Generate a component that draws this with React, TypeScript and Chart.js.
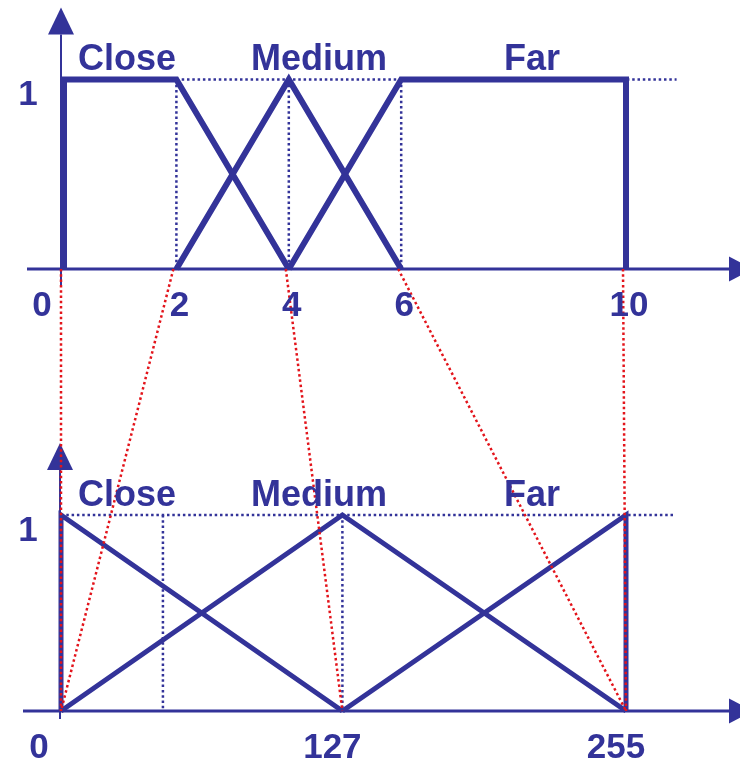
import React, { useEffect, useRef } from "react";
import { Chart, registerables } from "chart.js";

Chart.register(...registerables);

// ---- data ----
const setNames = ["Close", "Medium", "Far"];

const topCloseX = [0, 0, 2, 4];
const topCloseY = [0, 1, 1, 0];
const topMediumX = [2, 4, 6];
const topMediumY = [0, 1, 0];
const topFarX = [4, 6, 10, 10];
const topFarY = [0, 1, 1, 0];

const botCloseX = [0, 0, 127];
const botCloseY = [0, 1, 0];
const botMediumX = [0, 127, 255];
const botMediumY = [0, 1, 0];
const botFarX = [127, 255, 255];
const botFarY = [0, 1, 0];

const topTicks = [0, 2, 4, 6, 10];
const bottomTicks = [0, 127, 255];
const membershipTicks = [1];

const topGuides = [2, 4, 6];
const bottomGuides = [46, 127];
const topLevelGuide = [2, 10.9];
const bottomLevelGuide = [0, 277];

const mapFrom = [0, 2, 4, 6, 10];
const mapTo = [0, 0, 127, 255, 255];

// ---- style ----
const BLUE = "#333399";
const RED = "#e3141b";
const W = 740;
const H = 763;
const LABEL_FONT = 'bold 36px "Liberation Sans", Arial, sans-serif';
const NUM_FONT = 'bold 35px "Liberation Sans", Arial, sans-serif';
const nameCenters = [127, 319, 532];

function xBounds(v0: number, p0: number, v1: number, p1: number) {
  const range = (W * (v1 - v0)) / (p1 - p0);
  const min = v0 - (p0 * range) / W;
  return { min, max: min + range };
}
function yBounds(v0: number, p0: number, v1: number, p1: number) {
  const range = (H * (v1 - v0)) / (p0 - p1);
  const max = v0 + (p0 * range) / H;
  return { min: max - range, max };
}

const zip = (xs: number[], ys: number[]) => xs.map((x, i) => ({ x, y: ys[i] }));

const diagramPlugin = {
  id: "diagram",
  beforeDatasetsDraw(chart: any) {
    const ctx: CanvasRenderingContext2D = chart.ctx;
    const { xTop, yTop, xBot, yBot } = chart.scales;
    ctx.save();
    // dotted guides
    ctx.strokeStyle = BLUE;
    ctx.lineWidth = 2.5;
    ctx.setLineDash([2.5, 2.8]);
    const seg = (x1: number, y1: number, x2: number, y2: number) => {
      ctx.beginPath();
      ctx.moveTo(x1, y1);
      ctx.lineTo(x2, y2);
      ctx.stroke();
    };
    seg(xTop.getPixelForValue(topLevelGuide[0]), yTop.getPixelForValue(1), xTop.getPixelForValue(topLevelGuide[1]), yTop.getPixelForValue(1));
    topGuides.forEach((g) => seg(xTop.getPixelForValue(g), yTop.getPixelForValue(1), xTop.getPixelForValue(g), yTop.getPixelForValue(0)));
    seg(xBot.getPixelForValue(bottomLevelGuide[0]), yBot.getPixelForValue(1), xBot.getPixelForValue(bottomLevelGuide[1]), yBot.getPixelForValue(1));
    bottomGuides.forEach((g) => seg(xBot.getPixelForValue(g), yBot.getPixelForValue(1), xBot.getPixelForValue(g), yBot.getPixelForValue(0)));
    ctx.setLineDash([]);

    // axes
    ctx.fillStyle = BLUE;
    const drawAxes = (xs: any, ys: any, yAxisShift: number, leftExt: number, stub: number) => {
      const y0 = ys.getPixelForValue(0);
      const x0 = xs.getPixelForValue(0) + yAxisShift;
      const yBase = ys.getPixelForValue(1) - 45;
      ctx.lineWidth = 3;
      seg(x0 - leftExt, y0, 729, y0);
      ctx.beginPath();
      ctx.moveTo(729, y0 - 12.5);
      ctx.lineTo(729, y0 + 12.5);
      ctx.lineTo(753, y0);
      ctx.closePath();
      ctx.fill();
      ctx.lineWidth = 2;
      seg(x0, y0 + stub, x0, yBase);
      ctx.beginPath();
      ctx.moveTo(x0 - 13, yBase);
      ctx.lineTo(x0 + 13, yBase);
      ctx.lineTo(x0, yBase - 27);
      ctx.closePath();
      ctx.fill();
    };
    drawAxes(xTop, yTop, -3, 34, 16);
    drawAxes(xBot, yBot, -1, 37, 8);
    ctx.restore();
  },
  afterDatasetsDraw(chart: any) {
    const ctx: CanvasRenderingContext2D = chart.ctx;
    const { xTop, yTop, xBot, yBot } = chart.scales;
    ctx.save();
    // red mapping lines
    ctx.strokeStyle = RED;
    ctx.lineWidth = 2.5;
    ctx.setLineDash([2.5, 2.8]);
    mapFrom.forEach((v, i) => {
      ctx.beginPath();
      ctx.moveTo(xTop.getPixelForValue(v) - 3, yTop.getPixelForValue(0));
      ctx.lineTo(xBot.getPixelForValue(mapTo[i]), yBot.getPixelForValue(0));
      ctx.stroke();
    });
    ctx.setLineDash([]);

    // texts
    ctx.fillStyle = BLUE;
    ctx.textBaseline = "middle";
    ctx.textAlign = "center";
    const panels = [
      { xs: xTop, ys: yTop, ticks: topTicks, shift: 3 },
      { xs: xBot, ys: yBot, ticks: bottomTicks, shift: -10 },
    ];
    panels.forEach(({ xs, ys, ticks, shift }) => {
      ctx.font = LABEL_FONT;
      setNames.forEach((n, i) => ctx.fillText(n, nameCenters[i], ys.getPixelForValue(1) - 19));
      ctx.font = NUM_FONT;
      membershipTicks.forEach((m) => ctx.fillText(String(m), 28, ys.getPixelForValue(m) + 16));
      const x0 = xs.getPixelForValue(0);
      ticks.forEach((t) => {
        let px = xs.getPixelForValue(t);
        if (t === 0) px = x0 - 22;
        else px += shift;
        ctx.fillText(String(t), px, ys.getPixelForValue(0) + 37);
      });
    });
    ctx.restore();
  },
};

export default function App() {
  const ref = useRef<HTMLCanvasElement | null>(null);
  useEffect(() => {
    document.body.style.margin = "0";
    if (!ref.current) return;
    const line = (data: any[], xAxisID: string, yAxisID: string, width: number) => ({
      data,
      xAxisID,
      yAxisID,
      borderColor: BLUE,
      borderWidth: width,
      borderJoinStyle: "miter" as const,
      borderCapStyle: "butt" as const,
      pointRadius: 0,
      tension: 0,
      fill: false,
    });
    const chart = new Chart(ref.current, {
      type: "line",
      data: {
        datasets: [
          line(zip(topCloseX, topCloseY), "xTop", "yTop", 6),
          line(zip(topMediumX, topMediumY), "xTop", "yTop", 6),
          line(zip(topFarX, topFarY), "xTop", "yTop", 6),
          line(zip(botCloseX, botCloseY), "xBot", "yBot", 5),
          line(zip(botMediumX, botMediumY), "xBot", "yBot", 5),
          line(zip(botFarX, botFarY), "xBot", "yBot", 5),
        ],
      },
      options: {
        animation: false,
        responsive: true,
        maintainAspectRatio: false,
        layout: { padding: 0, autoPadding: false },
        plugins: { legend: { display: false }, tooltip: { enabled: false } },
        events: [],
        scales: {
          xTop: { type: "linear", display: false, ...xBounds(0, 64, 10, 626) },
          yTop: { type: "linear", display: false, ...yBounds(0, 269, 1, 79.5) },
          xBot: { type: "linear", display: false, ...xBounds(0, 61, 255, 626) },
          yBot: { type: "linear", display: false, ...yBounds(0, 711, 1, 515) },
        },
      },
      plugins: [diagramPlugin],
    });
    return () => chart.destroy();
  }, []);
  return (
    <div style={{ position: "absolute", left: 0, top: 0, width: W, height: H, background: "#fff" }}>
      <canvas ref={ref} />
    </div>
  );
}
